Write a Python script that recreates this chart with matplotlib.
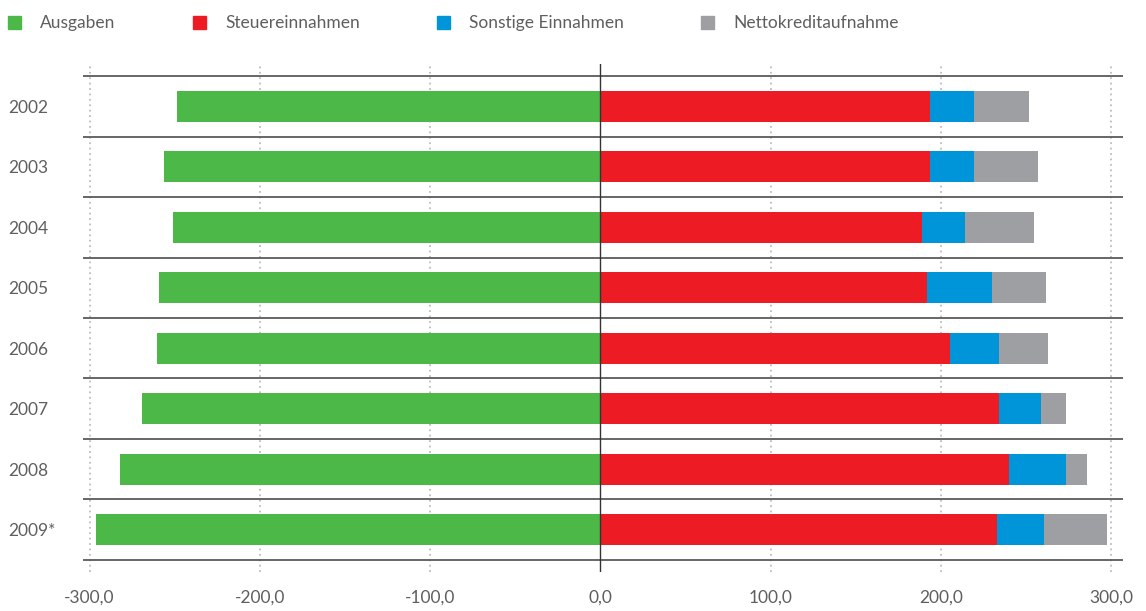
import numpy as np
import matplotlib
matplotlib.use("Agg")
import matplotlib.pyplot as plt
from matplotlib.patches import Patch

# Data (Mrd. Euro)
years = ["2002", "2003", "2004", "2005", "2006", "2007", "2008", "2009*"]
ausgaben = [248.7, 256.4, 251.1, 259.3, 260.5, 269.3, 282.2, 296.3]
steuern = [193.2, 193.2, 188.5, 191.7, 205.0, 234.3, 239.8, 232.8]
sonstige = [26.1, 26.1, 25.5, 38.1, 28.9, 24.3, 33.5, 27.6]
kredit = [32.3, 37.5, 40.5, 31.7, 28.8, 14.7, 12.3, 37.0]
xticks = [-300, -200, -100, 0, 100, 200, 300]

c_green = "#4CB848"
c_red = "#ED1C24"
c_blue = "#0095D9"
c_gray = "#9D9FA2"
txt = "#5f5f5f"

plt.rcParams["font.family"] = ["Lato", "DejaVu Sans"]

fig = plt.figure(figsize=(11.46, 6.11), dpi=100)
ax = fig.add_axes([0.0724, 0.0638, 0.9072, 0.8314])

y = np.arange(len(years))
h = 0.51
aus = -np.array(ausgaben)
st = np.array(steuern)
so = np.array(sonstige)
kr = np.array(kredit)

ax.barh(y, aus, height=h, color=c_green, zorder=3)
ax.barh(y, st, height=h, color=c_red, zorder=3)
ax.barh(y, so, left=st, height=h, color=c_blue, zorder=3)
ax.barh(y, kr, left=st + so, height=h, color=c_gray, zorder=3)

ax.set_xlim(-303.9, 306.6)
ax.set_ylim(len(years) - 0.3, -0.7)

# dotted vertical grid
for v in xticks:
    if v != 0:
        ax.axvline(v, color="#bdbdbd", lw=1.3, ls=(0, (1, 2)), zorder=1)
ax.axvline(0, color="#333333", lw=1.0, zorder=4)

# row separators
for b in np.arange(-0.5, len(years), 1.0):
    ax.axhline(b, color="#5a5a5a", lw=1.3, zorder=2)

for s in ax.spines.values():
    s.set_visible(False)

ax.set_xticks(xticks)
ax.set_xticklabels([f"{v:.1f}".replace(".", ",") for v in xticks],
                   color=txt, fontsize=12.5)
ax.tick_params(axis="x", length=0, pad=13)
ax.set_yticks(y)
ax.set_yticklabels(years, color=txt, fontsize=12.5, ha="left")
ax.tick_params(axis="y", length=0, pad=54)

handles = [Patch(color=c_green), Patch(color=c_red), Patch(color=c_blue), Patch(color=c_gray)]
labels = ["Ausgaben", "Steuereinnahmen", "Sonstige Einnahmen", "Nettokreditaufnahme"]
leg = fig.legend(handles, labels, loc="upper left", bbox_to_anchor=(-0.002, 0.992),
                 ncol=4, frameon=False, fontsize=12.5,
                 handlelength=0.75, handleheight=0.75, handletextpad=1.1,
                 columnspacing=4.45, borderpad=0.3, borderaxespad=0.3)
for t in leg.get_texts():
    t.set_color(txt)

fig.savefig("out.png", dpi=100)
